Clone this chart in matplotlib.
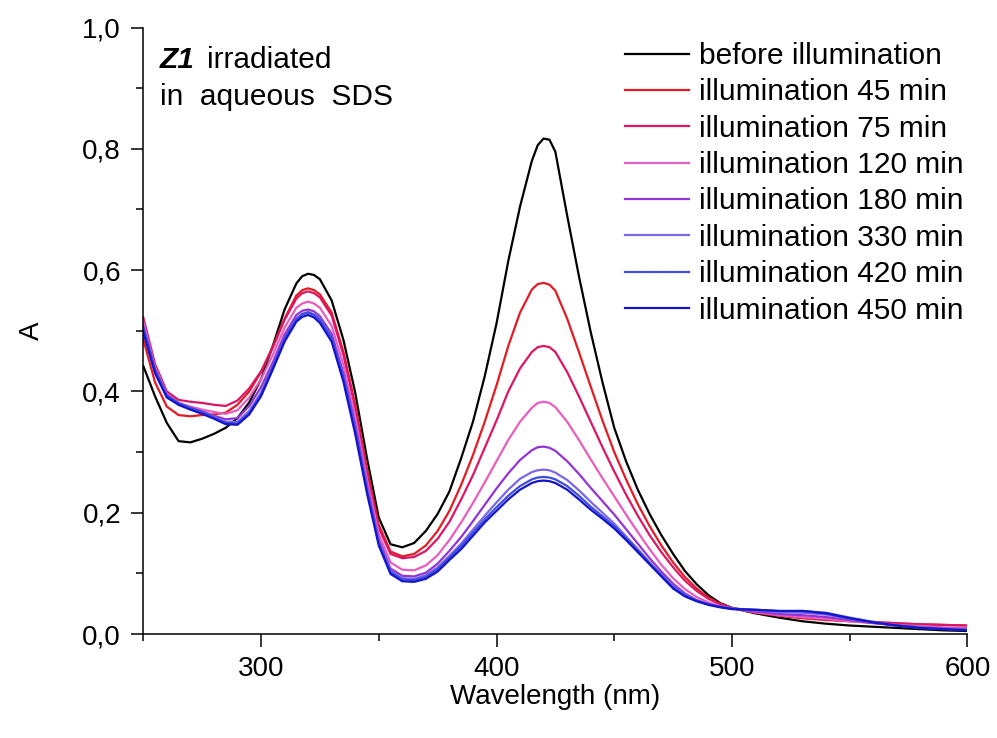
import matplotlib
matplotlib.use("Agg")
import matplotlib.pyplot as plt
from matplotlib.ticker import MultipleLocator, FuncFormatter

plt.rcParams['font.family'] = ['Liberation Sans', 'DejaVu Sans']

# wavelength grid (nm)
wl = [250, 255, 260, 265, 270, 275, 280, 285, 290, 295,
      300, 305, 310, 315, 317.5, 320, 322.5, 325, 330, 335, 340, 345,
      350, 355, 360, 365, 370, 375, 380, 385, 390, 395,
      400, 405, 410, 415, 417.5, 420, 422.5, 425, 430, 435, 440, 445,
      450, 455, 460, 465, 470, 475, 480, 485, 490, 495,
      500, 510, 520, 530, 540, 550, 560, 570, 580, 590, 600]

# absorbance
before = [.442, .392, .348, .318, .316, .322, .330, .340, .356, .382,
          .420, .475, .535, .578, .590, .594, .592, .585, .550, .485, .398, .290,
          .192, .148, .143, .150, .170, .198, .235, .290, .350, .425,
          .512, .615, .705, .780, .806, .817, .815, .795, .690, .590, .498, .415,
          .340, .285, .238, .198, .163, .132, .104, .082, .064, .051,
          .043, .034, .027, .021, .017, .014, .012, .010, .008, .006, .005]
min45 = [.486, .415, .375, .361, .359, .361, .362, .365, .378, .400,
         .432, .474, .520, .558, .567, .570, .567, .560, .530, .465, .378, .272,
         .180, .136, .128, .132, .146, .170, .203, .246, .295, .350,
         .410, .475, .530, .568, .577, .579, .576, .566, .520, .465, .408, .352,
         .300, .255, .214, .178, .146, .118, .094, .075, .060, .050,
         .043, .035, .030, .026, .023, .021, .019, .017, .016, .015, .014]
min75 = [.522, .445, .400, .386, .383, .381, .378, .376, .385, .405,
         .433, .472, .518, .553, .562, .565, .562, .555, .525, .460, .372, .266,
         .175, .132, .125, .127, .137, .157, .185, .222, .262, .307,
         .352, .400, .438, .465, .473, .475, .473, .465, .432, .392, .350, .308,
         .268, .230, .195, .163, .135, .110, .088, .071, .058, .049,
         .043, .036, .031, .027, .024, .022, .020, .018, .016, .015, .014]
min120 = [.515, .440, .396, .381, .375, .370, .366, .363, .369, .390,
          .420, .460, .505, .538, .545, .548, .545, .538, .508, .444, .358, .255,
          .165, .118, .106, .105, .113, .130, .155, .184, .216, .250,
          .285, .320, .350, .373, .381, .383, .381, .374, .350, .320, .288, .257,
          .227, .197, .168, .140, .114, .092, .074, .061, .052, .046,
          .042, .036, .031, .028, .025, .021, .018, .015, .013, .011, .010]
min180 = [.505, .435, .392, .378, .372, .367, .360, .354, .356, .376,
          .407, .448, .494, .526, .533, .535, .532, .524, .495, .430, .345, .245,
          .156, .108, .096, .095, .101, .116, .137, .160, .186, .213,
          .240, .265, .287, .303, .308, .309, .307, .302, .285, .264, .241, .219,
          .197, .173, .149, .125, .103, .083, .067, .056, .049, .045,
          .042, .037, .033, .031, .028, .023, .018, .014, .011, .009, .008]
min330 = [.500, .432, .392, .380, .372, .366, .358, .350, .350, .368,
          .398, .442, .488, .520, .528, .531, .527, .520, .490, .425, .340, .240,
          .152, .104, .092, .091, .097, .110, .129, .149, .172, .195,
          .217, .238, .256, .267, .270, .271, .270, .266, .254, .237, .218, .200,
          .182, .161, .140, .118, .098, .079, .065, .055, .049, .045,
          .042, .039, .036, .035, .032, .025, .019, .014, .011, .009, .008]
min420 = [.507, .436, .394, .381, .373, .366, .357, .348, .347, .364,
          .395, .440, .487, .519, .527, .530, .526, .518, .488, .423, .338, .238,
          .150, .102, .090, .089, .094, .107, .126, .145, .167, .189,
          .209, .228, .244, .255, .258, .259, .258, .255, .244, .228, .210, .194,
          .178, .158, .138, .117, .097, .077, .064, .055, .049, .045,
          .042, .040, .038, .038, .035, .027, .020, .014, .010, .008, .007]
min450 = [.498, .430, .390, .378, .370, .363, .355, .346, .345, .362,
          .392, .436, .482, .515, .523, .526, .522, .513, .482, .416, .330, .232,
          .146, .099, .087, .086, .091, .103, .122, .140, .162, .184,
          .203, .222, .238, .249, .252, .253, .252, .249, .238, .222, .205, .190,
          .174, .155, .135, .115, .095, .075, .062, .054, .048, .044,
          .041, .040, .038, .038, .034, .026, .019, .014, .010, .008, .006]

labels = ["before illumination", "illumination 45 min", "illumination 75 min",
          "illumination 120 min", "illumination 180 min", "illumination 330 min",
          "illumination 420 min", "illumination 450 min"]
colors = ["#000000", "#e31b23", "#dc1664", "#e95cc0",
          "#9333d6", "#7b67e6", "#3f4be0", "#1515c8"]
series = [before, min45, min75, min120, min180, min330, min420, min450]

fig = plt.figure(figsize=(9.97, 7.38), dpi=100)
ax = fig.add_axes([0.1437, 0.1409, 0.8267, 0.8218])

for y, c, lab in zip(series, colors, labels):
    ax.plot(wl, y, color=c, lw=1.6, label=lab, solid_joinstyle='round')

ax.set_xlim(250, 600)
ax.set_ylim(0, 1.0)
ax.spines['top'].set_visible(False)
ax.spines['right'].set_visible(False)
ax.spines['left'].set_linewidth(1.1)
ax.spines['bottom'].set_linewidth(1.1)

ax.xaxis.set_major_locator(MultipleLocator(100))
ax.xaxis.set_minor_locator(MultipleLocator(50))
ax.yaxis.set_major_locator(MultipleLocator(0.2))
ax.yaxis.set_minor_locator(MultipleLocator(0.1))
ax.yaxis.set_major_formatter(FuncFormatter(lambda v, p: f"{v:.1f}".replace(".", ",")))
ax.xaxis.set_major_formatter(FuncFormatter(lambda v, p: "" if v < 300 else f"{v:.0f}"))
ax.tick_params(which='major', direction='out', length=9, width=1.1, labelsize=20, pad=7)
ax.tick_params(which='minor', direction='out', length=5, width=1.1)

ax.set_xlabel("Wavelength (nm)", fontsize=20, labelpad=1)
ax.set_ylabel("A", fontsize=20)
ax.yaxis.set_label_coords(-0.119, 0.5)

fig.text(160 / 997, 1 - 68 / 738, "Z1", fontsize=21.5, fontweight='bold',
         fontstyle='italic', va='baseline')
fig.text(207 / 997, 1 - 68 / 738, "irradiated", fontsize=21.5, va='baseline')
fig.text(160 / 997, 1 - 105 / 738, "in  aqueous  SDS", fontsize=21.5, va='baseline')

ax.legend(loc='upper left', bbox_to_anchor=(625 / 997, 1 - 42 / 738),
          bbox_transform=fig.transFigure, frameon=False, fontsize=21.5,
          handlelength=2.15, handletextpad=0.33, labelspacing=0.28,
          borderpad=0, borderaxespad=0)

fig.savefig("out.png", dpi=100)
